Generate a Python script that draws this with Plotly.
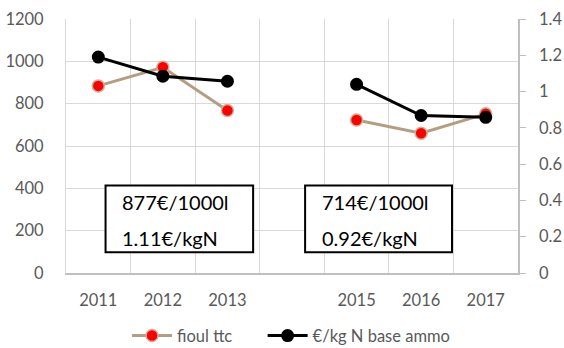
import plotly.graph_objects as go

years = ["2011", "2012", "2013", "2014", "2015", "2016", "2017"]
tick_labels = ["2011", "2012", "2013", "", "2015", "2016", "2017"]
fioul_ttc = [884, 972, 768, None, 723, 660, 752]
eur_kg_n = [1.19, 1.085, 1.057, None, 1.04, 0.868, 0.858]
box_line1 = ["877€/1000l", "714€/1000l"]
box_line2 = ["1.11€/kgN", "0.92€/kgN"]

xpos = list(range(len(years)))
FONT = "Lato, Carlito, 'Liberation Sans', sans-serif"
GREY = "#595959"

fig = go.Figure()
fig.add_trace(go.Scatter(
    x=xpos, y=fioul_ttc, name="fioul ttc", mode="lines+markers",
    line=dict(color="#b49e82", width=3),
    marker=dict(color="#ff0000", size=12, line=dict(color="#c8b49a", width=1.5)),
    connectgaps=False, legend="legend",
))
fig.add_trace(go.Scatter(
    x=xpos, y=eur_kg_n, name="€/kg N base ammo", mode="lines+markers",
    line=dict(color="#000000", width=3),
    marker=dict(color="#000000", size=13),
    yaxis="y2", connectgaps=False, legend="legend2",
))

# text boxes
for l1, l2, x0, x1 in zip(box_line1, box_line2, [0.0875, 0.529], [0.414, 0.854]):
    fig.add_shape(type="rect", xref="paper", yref="paper",
                  x0=x0, x1=x1, y0=0.082, y1=0.344,
                  line=dict(color="#000000", width=2), fillcolor="white", layer="above")
    for txt, yy in ((l1, 0.281), (l2, 0.139)):
        fig.add_annotation(xref="paper", yref="paper", x=x0 + 0.032, y=yy,
                           xanchor="left", yanchor="middle", align="left",
                           text=txt, showarrow=False,
                           font=dict(family=FONT, size=20, color="#000000"))

legend_style = dict(orientation="h", xanchor="left", yref="container",
                    y=0.035, yanchor="middle", itemwidth=40,
                    font=dict(family=FONT, size=16.5, color=GREY),
                    bgcolor="rgba(0,0,0,0)")

fig.update_layout(
    width=564, height=348,
    margin=dict(l=66, r=46, t=19, b=75, autoexpand=False),
    paper_bgcolor="white", plot_bgcolor="white",
    font=dict(family=FONT, size=16.5, color=GREY),
    showlegend=True,
    legend=dict(x=0.135, **legend_style),
    legend2=dict(x=0.435, **legend_style),
    xaxis=dict(range=[-0.5, 6.5], tickmode="array", tickvals=xpos, ticktext=tick_labels,
               showgrid=False, zeroline=False, ticks="", showline=True,
               linecolor="#bfbfbf", linewidth=1.5, ticklabelstandoff=11,
               minor=dict(tickmode="array", tickvals=[v - 0.5 for v in xpos] + [6.5],
                          showgrid=True, gridcolor="#d9d9d9", gridwidth=1, ticks="")),
    yaxis=dict(range=[0, 1200], dtick=200, showgrid=True, gridcolor="#d9d9d9",
               zeroline=False, showline=True, linecolor="#d9d9d9", linewidth=1,
               ticks="", ticklabelstandoff=18),
    yaxis2=dict(range=[0, 1.4], dtick=0.2, overlaying="y", side="right",
                showgrid=False, zeroline=False, showline=True, linecolor="#bfbfbf",
                linewidth=1.5, ticks="outside", ticklen=6, tickcolor="#bfbfbf",
                ticklabelstandoff=10, tickformat="~g"),
)

fig.write_html("out.html")
